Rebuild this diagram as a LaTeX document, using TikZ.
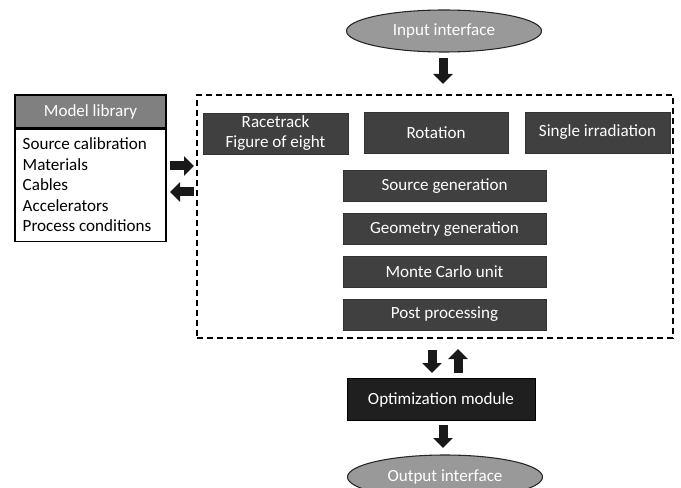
\documentclass[tikz,border=0pt]{standalone}
\usepackage{fontspec}
\setmainfont{Carlito}
\usetikzlibrary{shapes.geometric,arrows.meta}
\begin{document}
\begin{tikzpicture}[x=0.75pt,y=-0.75pt,
  every node/.style={font=\fontsize{12.8}{14}\selectfont},
  darkbox/.style={draw=black!80,fill=black!75,text=white,minimum height=31*0.75pt,inner sep=0pt,align=center},
  oval/.style={ellipse,draw=black!85,fill=black!40,text=white,line width=0.8pt,inner sep=0pt},
  blockarrow/.style={draw=black!90,line width=9*0.75pt,-{Triangle[length=10*0.75pt,width=19*0.75pt]}}]
\clip (0,0) rectangle (681,488);
\useasboundingbox (0,0) rectangle (681,488);
\fill[white] (0,0) rectangle (681,488);
\node[oval,minimum width=195*0.75pt,minimum height=42*0.75pt] (in) at (444,31) {Input interface};
\node[draw,dash pattern=on 4.5pt off 3pt,line width=1pt,minimum width=476*0.75pt,minimum height=243*0.75pt,inner sep=0pt] (frame) at (435,216.5) {};
\node[darkbox,minimum width=145*0.75pt,minimum height=41*0.75pt] (race) at (275.5,133.5) {Racetrack\\[1pt]Figure of eight};
\node[darkbox,minimum width=144*0.75pt,minimum height=41*0.75pt] (rot) at (436,132.5) {Rotation};
\node[darkbox,minimum width=145*0.75pt,minimum height=41*0.75pt] (single) at (597.5,132.5) {Single irradiation};
\node[darkbox,minimum width=203*0.75pt] (src) at (444.5,186) {Source generation};
\node[darkbox,minimum width=203*0.75pt] (geo) at (444.5,229) {Geometry generation};
\node[darkbox,minimum width=203*0.75pt] (mc) at (444.5,272) {Monte Carlo unit};
\node[darkbox,minimum width=203*0.75pt] (post) at (444.5,314.5) {Post processing};
\node[draw,line width=0.8pt,fill=black!50,text=white,minimum width=151*0.75pt,minimum height=33*0.75pt,inner sep=0pt] (libh) at (90.5,111.5) {Model library};
\node[draw,line width=0.8pt,fill=white,minimum width=151*0.75pt,minimum height=112*0.75pt,inner sep=0pt,anchor=north] (libb) at (libh.south) {};
\node[anchor=west,align=left,inner sep=0pt,font=\fontsize{12.8}{15.4}\selectfont] (libt) at ([xshift=8*0.75pt]libb.west) {Source calibration\\Materials\\Cables\\Accelerators\\Process conditions};
\node[draw=black,fill=black!88,text=white,minimum width=188*0.75pt,minimum height=42*0.75pt,inner sep=0pt] (opt) at (441,399.5) {Optimization module};
\node[oval,minimum width=195*0.75pt,minimum height=44*0.75pt] (out) at (445,477) {Output interface};
% connectors
\coordinate (a1s) at (443,58); \coordinate (a1e) at (443,84);
\coordinate (r1s) at (170,166); \coordinate (r1e) at (194,166);
\coordinate (l1s) at (194,192); \coordinate (l1e) at (170,192);
\coordinate (d1s) at (432,350); \coordinate (d1e) at (432,373);
\coordinate (u1s) at (458,373); \coordinate (u1e) at (458,349);
\coordinate (d2s) at (443,425); \coordinate (d2e) at (443,448);
\draw[blockarrow] (a1s) -- (a1e);
\draw[blockarrow] (r1s) -- (r1e);
\draw[blockarrow] (l1s) -- (l1e);
\draw[blockarrow] (d1s) -- (d1e);
\draw[blockarrow] (u1s) -- (u1e);
\draw[blockarrow] (d2s) -- (d2e);
\end{tikzpicture}
\end{document}
